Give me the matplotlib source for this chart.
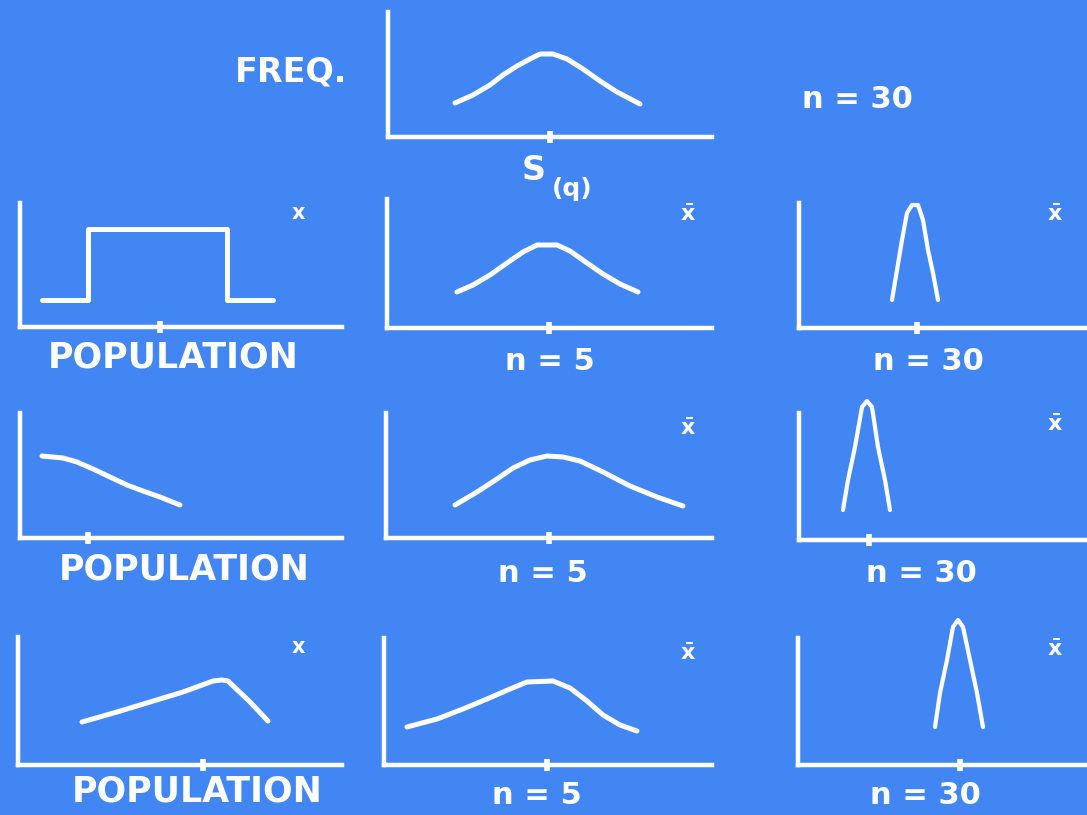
import matplotlib
matplotlib.use("Agg")
import matplotlib.pyplot as plt

W, H = 1087, 815
BG = "#4286F4"
FG = "white"

plt.rcParams["font.family"] = ["DejaVu Sans"]
plt.rcParams["font.weight"] = "bold"

# curves: x = distance from the y-axis, y = height above the x-axis (px units)
sq_x = [67, 85, 102, 115, 129, 142, 152, 165, 179, 195, 212, 229, 252]
sq_y = [34, 42, 52, 62, 71, 78, 83, 83, 78, 68, 56, 45, 33]

uniform_x = [22, 68, 68, 207, 207, 253]
uniform_y = [27, 27, 98, 98, 27, 27]
uniform_n5_x = [70, 86, 103, 120, 136, 150, 170, 183, 200, 216, 233, 251]
uniform_n5_y = [36, 43, 53, 65, 76, 83, 83, 77, 65, 54, 44, 36]
uniform_n30_x = [93, 98, 103, 108, 113, 119, 124, 129, 134, 139]
uniform_n30_y = [28, 58, 88, 115, 123, 123, 108, 78, 55, 28]

decay_x = [22, 43, 57, 73, 90, 107, 123, 140, 160]
decay_y = [82, 80, 76, 69, 61, 53, 47, 41, 33]
decay_n5_x = [69, 91, 111, 127, 144, 161, 177, 194, 217, 244, 271, 297]
decay_n5_y = [33, 46, 59, 70, 78, 82, 81, 77, 66, 52, 41, 32]
decay_n30_x = [44, 49, 56, 63, 68, 73, 79, 86, 91]
decay_n30_y = [30, 60, 93, 133, 139, 133, 93, 60, 30]

tri_x = [64, 99, 132, 165, 195, 204, 210, 232, 250]
tri_y = [43, 53, 63, 73, 84, 85, 84, 63, 44]
tri_n5_x = [23, 53, 79, 103, 126, 143, 169, 186, 203, 219, 236, 253]
tri_n5_y = [38, 46, 56, 66, 76, 83, 84, 77, 64, 50, 40, 34]
tri_n30_x = [137, 142, 149, 155, 160, 165, 172, 179, 185]
tri_n30_y = [38, 72, 105, 138, 145, 138, 105, 72, 38]

# mean position marked on each x-axis
sq_mean = 162
uniform_means = [140, 162, 118]
decay_means = [68, 163, 70]
tri_means = [185, 163, 162]


def fx(px):
    return px / W


def fy(py):
    return 1 - py / H


def panel(fig, left, top, right, bottom, xs, ys, mean, lw=3.6):
    ax = fig.add_axes([fx(left), fy(bottom), (right - left) / W, (bottom - top) / H])
    ax.set_xlim(0, right - left)
    ax.set_ylim(0, bottom - top)
    ax.patch.set_visible(False)
    for side in ("top", "right"):
        ax.spines[side].set_visible(False)
    for side in ("left", "bottom"):
        ax.spines[side].set_color(FG)
        ax.spines[side].set_linewidth(3.2)
    ax.set_xticks([mean])
    ax.set_xticklabels([])
    ax.set_yticks([])
    ax.tick_params(axis="x", direction="inout", length=9, width=4, color=FG)
    ax.plot(xs, ys, color=FG, lw=lw, clip_on=False,
            solid_joinstyle="round", solid_capstyle="round")
    return ax


fig = plt.figure(figsize=(W / 100, H / 100), dpi=100, facecolor=BG)

# sampling distribution of S(q)
panel(fig, 388, 12, 712, 137, sq_x, sq_y, sq_mean)
fig.text(fx(291), fy(72), "FREQ.", color=FG, fontsize=24, ha="center", va="center")
fig.text(fx(534), fy(170), "S", color=FG, fontsize=24, ha="center", va="center")
fig.text(fx(572), fy(189), "(q)", color=FG, fontsize=18, ha="center", va="center")
fig.text(fx(857), fy(99), "n = 30", color=FG, fontsize=22, ha="center", va="center")

rows = [
    (uniform_x, uniform_y, uniform_n5_x, uniform_n5_y, uniform_n30_x, uniform_n30_y, uniform_means),
    (decay_x, decay_y, decay_n5_x, decay_n5_y, decay_n30_x, decay_n30_y, decay_means),
    (tri_x, tri_y, tri_n5_x, tri_n5_y, tri_n30_x, tri_n30_y, tri_means),
]
# pixel boxes (left, top, right, bottom) of each row's three panels
boxes = [
    [(20, 203, 342, 327), (387, 199, 712, 328), (799, 203, 1090, 328)],
    [(20, 413, 342, 538), (386, 413, 712, 538), (799, 413, 1090, 540)],
    [(18, 637, 342, 765), (384, 638, 712, 765), (798, 638, 1090, 765)],
]
pop_y = [358, 570, 791]
n_y = [362, 574, 795]
pop_cx = [173, 184, 197]
n5_cx = [550, 543, 537]
n30_cx = [928, 921, 925]

for i, (px, py, p5x, p5y, p30x, p30y, means) in enumerate(rows):
    b = boxes[i]
    panel(fig, *b[0], px, py, means[0])
    panel(fig, *b[1], p5x, p5y, means[1])
    panel(fig, *b[2], p30x, p30y, means[2], lw=3.0)

    fig.text(fx(pop_cx[i]), fy(pop_y[i]), "POPULATION", color=FG, fontsize=25,
             ha="center", va="center")
    fig.text(fx(n5_cx[i]), fy(n_y[i]), "n = 5", color=FG, fontsize=22,
             ha="center", va="center")
    fig.text(fx(n30_cx[i]), fy(n_y[i]), "n = 30", color=FG, fontsize=22,
             ha="center", va="center")

    # variable markers: x for the population, x-bar for the sample means
    if i != 1:
        fig.text(fx(298), fy(b[0][1] + 10), "x", color=FG, fontsize=15,
                 ha="center", va="center")
    fig.text(fx(688), fy(b[1][1] + 16), r"$\bar{\mathbf{x}}$", color=FG, fontsize=16,
             ha="center", va="center")
    fig.text(fx(1055), fy(b[2][1] + 12), r"$\bar{\mathbf{x}}$", color=FG, fontsize=16,
             ha="center", va="center")

fig.savefig("out.png", dpi=100, facecolor=BG)
